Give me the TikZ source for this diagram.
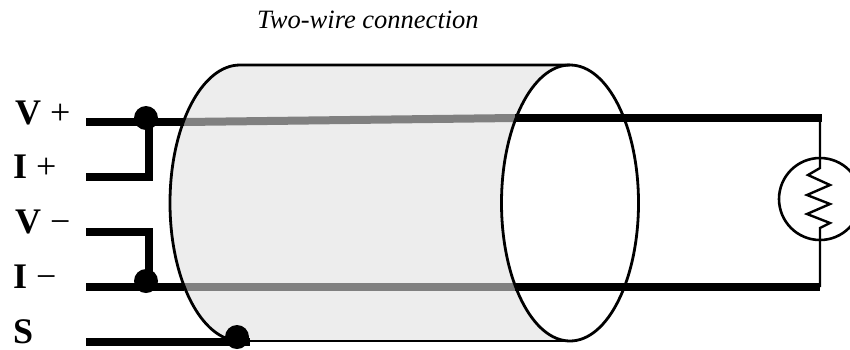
\documentclass[tikz,border=0pt]{standalone}
\usepackage{fontspec}
\setmainfont{Liberation Serif}
\begin{document}
\begin{tikzpicture}[x=1pt,y=-1pt,
  wire/.style={line width=8pt,line cap=butt,line join=miter},
  graywire/.style={line width=8pt,draw=black!50,line cap=butt},
  outline/.style={line width=2.8pt,line join=round},
  thin/.style={line width=2.4pt,line join=miter},
  junction/.style={circle,fill=black,inner sep=0pt,minimum size=24pt},
  lbl/.style={anchor=base west,inner sep=0pt,font=\fontsize{36}{40}\selectfont},
  title/.style={anchor=base west,inner sep=0pt,font=\fontsize{26.5}{30}\selectfont\itshape}]
\useasboundingbox (0,0) rectangle (850,349);
% title
\node[title] (ttl) at (257,28) {Two-wire connection};
% labels
\node[lbl] (lvp) at (15,124) {\textbf{V} +};
\node[lbl] (lip) at (13,178) {\textbf{I} +};
\node[lbl] (lvm) at (15,233) {\textbf{V} −};
\node[lbl] (lim) at (13,288) {\textbf{I} −};
\node[lbl] (ls) at (13,343) {\textbf{S}};
% cylinder fill
\fill[black!7] (240,65) -- (570,65) arc[start angle=270,end angle=90,x radius=68.5,y radius=138]
  -- (240,341) arc[start angle=90,end angle=270,x radius=70,y radius=138] -- cycle;
% coordinates
\coordinate (vpL) at (86,122);
\coordinate (vpG) at (184,122);
\coordinate (vpR) at (515,118);
\coordinate (vpE) at (822,118);
\coordinate (vpJ) at (149,122);
\coordinate (ipL) at (86,177);
\coordinate (ipC) at (149,177);
\coordinate (vmL) at (86,232);
\coordinate (vmC) at (149,232);
\coordinate (imJ) at (149,287);
\coordinate (imL) at (86,287);
\coordinate (imG) at (184,287);
\coordinate (imR) at (515,287);
\coordinate (imE) at (820,287);
\coordinate (sL) at (86,342);
\coordinate (sE) at (250,342);
% wires
\draw[wire] (vpL) -- (vpG);
\draw[graywire] (vpG) -- (vpR);
\draw[wire] (vpR) -- (vpE);
\draw[wire] (ipL) -- (ipC) -- (vpJ);
\draw[wire] (vmL) -- (vmC) -- (imJ);
\draw[wire] (imL) -- (imG);
\draw[graywire] (imG) -- (imR);
\draw[wire] (imR) -- (imE);
\draw[wire] (sL) -- (sE);
% cylinder outline
\draw[outline] (240,341) arc[start angle=90,end angle=270,x radius=70,y radius=138] -- (570,65);
\draw[outline] (240,341) -- (570,341);
\draw[outline] (570,203) ellipse[x radius=68.5,y radius=138];
% junction dots
\node[junction] (d1) at (146,118) {};
\node[junction] (d2) at (146,281) {};
\node[junction] (d3) at (237,337) {};
% resistor
\node[circle,draw,line width=2.6pt,minimum size=82pt,inner sep=0pt] (res) at (820,199) {};
\coordinate (rT) at (820,162);
\coordinate (rB) at (820,228);
\draw[thin] (vpE) ++(-2,0) -- (rT) -- (820,168) -- (808,175) -- (830,185) -- (807,195) -- (830,204) -- (807,214) -- (830,223) -- (rB) -- ++(0,59);
\end{tikzpicture}
\end{document}
